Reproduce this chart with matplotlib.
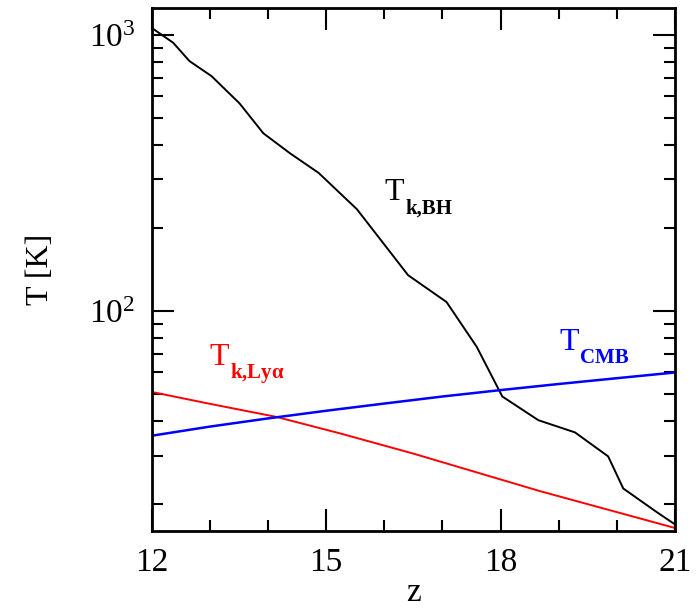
import matplotlib
matplotlib.use("Agg")
import matplotlib.pyplot as plt
from matplotlib.ticker import FixedLocator, MultipleLocator, LogFormatterMathtext, NullFormatter

plt.rcParams["font.family"] = ["Liberation Serif", "DejaVu Serif"]
plt.rcParams["mathtext.fontset"] = "custom"
plt.rcParams["mathtext.rm"] = "Liberation Serif"
plt.rcParams["mathtext.it"] = "Liberation Serif:italic"
plt.rcParams["mathtext.bf"] = "Liberation Serif:bold"

# Kinetic temperature with black-hole heating
z_bh = [12.00, 12.37, 12.65, 13.03, 13.51, 13.92, 14.38, 14.87, 15.53, 16.41,
        17.07, 17.59, 18.03, 18.65, 19.28, 19.85, 20.11, 20.69, 21.00]
t_bh = [1062, 938, 805, 710, 566, 441, 373, 317, 234, 135,
        108, 74.3, 49.1, 40.3, 36.4, 29.8, 22.8, 18.7, 16.9]

# Kinetic temperature with Lyman-alpha heating
z_lya = [12.00, 13.00, 14.15, 15.24, 16.50, 18.68, 21.00]
t_lya = [51.0, 46.2, 41.4, 36.1, 30.5, 22.3, 16.4]

# CMB temperature
z_cmb = [12, 13, 14, 15, 16, 17, 18, 19, 20, 21]
t_cmb = [35.4, 38.2, 40.9, 43.6, 46.3, 49.1, 51.8, 54.5, 57.2, 60.0]

x_major = [12, 15, 18, 21]
x_range = (12, 21)
y_range = (16, 1250)

fig = plt.figure(figsize=(6.99, 6.12), dpi=100)
ax = fig.add_axes([0.217, 0.1324, 0.7487, 0.854])

ax.plot(z_bh, t_bh, color="black", lw=1.4)
ax.plot(z_lya, t_lya, color="#ff0000", lw=1.4)
ax.plot(z_cmb, t_cmb, color="#0000ff", lw=1.8)

ax.set_yscale("log")
ax.set_xlim(*x_range)
ax.set_ylim(*y_range)

ax.xaxis.set_major_locator(FixedLocator(x_major))
ax.xaxis.set_minor_locator(MultipleLocator(1))
ax.yaxis.set_major_formatter(LogFormatterMathtext())
ax.yaxis.set_minor_formatter(NullFormatter())

for s in ax.spines.values():
    s.set_linewidth(2.0)

ax.tick_params(which="both", direction="in", top=True, right=True, width=1.5)
ax.tick_params(which="major", length=16, labelsize=24, pad=12)
ax.tick_params(which="minor", length=8)


def label(x, y, main, sub, color):
    ax.text(x, y, main, color=color, fontsize=23, ha="left", va="baseline")
    ax.annotate(sub, xy=(x, y), xytext=(14.5, -9.5), textcoords="offset points",
                color=color, fontsize=15, fontweight="bold", ha="left", va="baseline")


label(16.01, 252, "T", "k,BH", "black")
label(13.0, 63.7, "T", r"k,Ly$\mathbf{\alpha}$", "#ff0000")
label(19.02, 72.3, "T", "CMB", "#0000ff")

ax.set_xlabel("z", fontsize=24)
ax.set_ylabel("T [K]", fontsize=23)
ax.xaxis.label.set_va("center")
ax.yaxis.label.set_va("center")
ax.xaxis.set_label_coords(0.5, -0.118)
ax.yaxis.set_label_coords(-0.213, 0.5)

fig.savefig("out.png", dpi=100)
